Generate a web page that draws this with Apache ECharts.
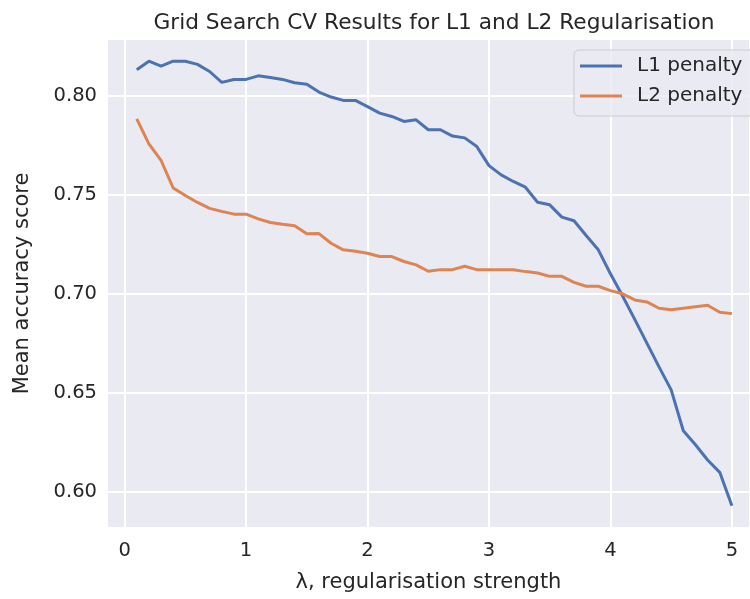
<!DOCTYPE html>
<html>
<head>
<meta charset="utf-8">
<title>Grid Search CV Results</title>
<script src="https://cdn.jsdelivr.net/npm/echarts@6/dist/echarts.min.js"></script>
<style>
  * { margin: 0; padding: 0; }
  html, body { background: #fff; }
  #chart { width: 750px; height: 599px; }
</style>
</head>
<body>
<!-- container with fixed size for echarts -->
<div id="chart"></div>
<script>
  // lambda values (x)
  var lambdas = [0.1, 0.2, 0.3, 0.4, 0.5, 0.6, 0.7, 0.8, 0.9, 1.0,
                 1.1, 1.2, 1.3, 1.4, 1.5, 1.6, 1.7, 1.8, 1.9, 2.0,
                 2.1, 2.2, 2.3, 2.4, 2.5, 2.6, 2.7, 2.8, 2.9, 3.0,
                 3.1, 3.2, 3.3, 3.4, 3.5, 3.6, 3.7, 3.8, 3.9, 4.0,
                 4.1, 4.2, 4.3, 4.4, 4.5, 4.6, 4.7, 4.8, 4.9, 5.0];

  // mean accuracy, L1 penalty
  var l1Scores = [0.8130, 0.8173, 0.8148, 0.8173, 0.8173, 0.8157, 0.8121, 0.8066, 0.8081, 0.8081,
                  0.8099, 0.8091, 0.8081, 0.8064, 0.8057, 0.8017, 0.7992, 0.7975, 0.7975, 0.7944,
                  0.7911, 0.7894, 0.7869, 0.7877, 0.7827, 0.7827, 0.7795, 0.7786, 0.7742, 0.7646,
                  0.7599, 0.7566, 0.7537, 0.7461, 0.7448, 0.7386, 0.7368, 0.7293, 0.7221, 0.7100,
                  0.6988, 0.6870, 0.6750, 0.6630, 0.6514, 0.6308, 0.6237, 0.6160, 0.6098, 0.5929];

  // mean accuracy, L2 penalty
  var l2Scores = [0.7882, 0.7756, 0.7672, 0.7533, 0.7495, 0.7460, 0.7430, 0.7415, 0.7401, 0.7401,
                  0.7377, 0.7359, 0.7350, 0.7342, 0.7302, 0.7303, 0.7254, 0.7221, 0.7214, 0.7204,
                  0.7187, 0.7187, 0.7162, 0.7145, 0.7113, 0.7121, 0.7121, 0.7138, 0.7121, 0.7121,
                  0.7121, 0.7120, 0.7111, 0.7104, 0.7087, 0.7087, 0.7057, 0.7037, 0.7037, 0.7015,
                  0.6999, 0.6968, 0.6958, 0.6926, 0.6918, 0.6926, 0.6934, 0.6941, 0.6906, 0.6899];

  var seriesNames = ['L1 penalty', 'L2 penalty'];

  function pairs(xs, ys) {
    return xs.map(function (x, i) { return [x, ys[i]]; });
  }

  var font = 'DejaVu Sans';
  var textColor = '#262626';

  var chart = echarts.init(document.getElementById('chart'));
  chart.setOption({
    animation: false,
    title: {
      text: 'Grid Search CV Results for L1 and L2 Regularisation',
      left: 429,
      textAlign: 'center',
      top: 7,
      textStyle: { fontFamily: font, fontSize: 21.7, fontWeight: 'normal', color: textColor }
    },
    legend: {
      data: seriesNames,
      orient: 'vertical',
      left: 574,
      top: 50,
      icon: 'rect',
      itemWidth: 42,
      itemHeight: 3,
      itemGap: 10,
      padding: [6, 30, 10, 6],
      backgroundColor: 'rgba(234,234,242,0.8)',
      borderColor: '#cccccc',
      borderWidth: 1,
      borderRadius: 5,
      textStyle: { fontFamily: font, fontSize: 20, lineHeight: 20, color: textColor, padding: [0, 0, 0, 10] }
    },
    grid: {
      left: 107,
      right: 0,
      top: 39,
      bottom: 71,
      show: true,
      backgroundColor: '#EAEAF2',
      borderWidth: 0
    },
    xAxis: {
      type: 'value',
      min: -0.145,
      max: 5.149,
      splitNumber: 5,
      name: 'λ, regularisation strength',
      nameLocation: 'middle',
      nameGap: 44,
      nameTextStyle: { fontFamily: font, fontSize: 21, color: textColor, verticalAlign: 'top' },
      axisLine: { show: false },
      axisTick: { show: false },
      axisLabel: { fontFamily: font, fontSize: 19.5, color: textColor, margin: 13, showMinLabel: false, showMaxLabel: false },
      splitLine: { lineStyle: { color: '#ffffff', width: 2 } }
    },
    yAxis: {
      type: 'value',
      min: 0.5817,
      max: 0.8285,
      splitNumber: 5,
      name: 'Mean accuracy score',
      nameLocation: 'middle',
      nameGap: 74,
      nameTextStyle: { fontFamily: font, fontSize: 21, color: textColor },
      axisLine: { show: false },
      axisTick: { show: false },
      axisLabel: {
        fontFamily: font, fontSize: 19.5, color: textColor, margin: 10,
        showMinLabel: false, showMaxLabel: false,
        formatter: function (v) { return v.toFixed(2); }
      },
      splitLine: { lineStyle: { color: '#ffffff', width: 2 } }
    },
    series: [
      {
        name: seriesNames[0],
        type: 'line',
        data: pairs(lambdas, l1Scores),
        showSymbol: false,
        symbol: 'none',
        color: '#4C72B0',
        lineStyle: { width: 3, color: '#4C72B0' }
      },
      {
        name: seriesNames[1],
        type: 'line',
        data: pairs(lambdas, l2Scores),
        showSymbol: false,
        symbol: 'none',
        color: '#DD8452',
        lineStyle: { width: 3, color: '#DD8452' }
      }
    ]
  });
</script>
</body>
</html>
